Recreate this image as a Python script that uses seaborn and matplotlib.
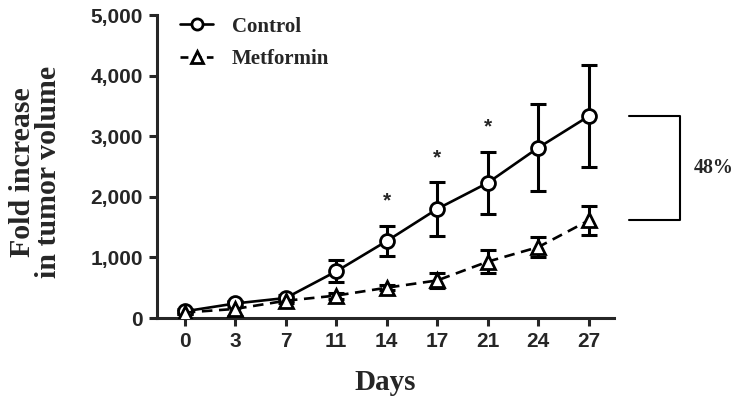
import matplotlib
matplotlib.use("Agg")
import matplotlib.pyplot as plt
import seaborn as sns
import pandas as pd
import numpy as np
from matplotlib.lines import Line2D

days = ['0', '3', '7', '11', '14', '17', '21', '24', '27']
control = [110, 240, 330, 770, 1270, 1800, 2230, 2810, 3330]
control_sem = [40, 40, 50, 180, 250, 440, 510, 715, 840]
metformin = [90, 150, 285, 370, 500, 620, 930, 1170, 1610]
metformin_sem = [30, 110, 40, 50, 40, 130, 190, 170, 245]
star_days = ['14', '17', '21']
star_vals = [1940, 2640, 3150]
yticks = [0, 1000, 2000, 3000, 4000, 5000]
ytick_labels = ['0', '1,000', '2,000', '3,000', '4,000', '5,000']
bracket_label = '48%'

sns.set_style("ticks")
plt.rcParams['font.family'] = ['Liberation Sans', 'DejaVu Sans']

df = pd.DataFrame({
    'day': days * 2,
    'value': control + metformin,
    'group': ['Control'] * len(days) + ['Metformin'] * len(days),
})

fig = plt.figure(figsize=(7.42, 3.96), dpi=100)
ax = fig.add_axes([157 / 742, 1 - 318 / 396, 457 / 742, 303 / 396])

# error bars
for vals, errs in [(control, control_sem), (metformin, metformin_sem)]:
    ax.errorbar(days, vals, yerr=errs, fmt='none', ecolor='black',
                elinewidth=2.2, capsize=5.6, capthick=2.2, zorder=2)

sns.lineplot(data=df, x='day', y='value', style='group',
             markers={'Control': 'o', 'Metformin': '^'},
             dashes={'Control': '', 'Metformin': (4, 2.5)},
             color='black', linewidth=1.9, markersize=10,
             markerfacecolor='white', markeredgecolor='black',
             markeredgewidth=2.0, ax=ax, legend=False, zorder=3)

# stars
for d, v in zip(star_days, star_vals):
    ax.text(d, v, '*', ha='center', va='center', fontsize=15,
            fontweight='bold', family='Liberation Sans')

ax.set_xlim(-0.55, 8.5)
ax.set_ylim(0, 5000)
ax.set_yticks(yticks)
ax.set_yticklabels(ytick_labels)

for s in ['top', 'right']:
    ax.spines[s].set_visible(False)
for s in ['left', 'bottom']:
    ax.spines[s].set_linewidth(2.2)
ax.tick_params(axis='both', width=2.2, length=6, labelsize=15, pad=4)
for lab in ax.get_xticklabels() + ax.get_yticklabels():
    lab.set_fontweight('bold')

ax.set_xlabel('Days', family='Liberation Serif', fontweight='bold',
              fontsize=21)
ax.xaxis.set_label_coords(0.5, -0.168)
ax.set_ylabel('Fold increase\nin tumor volume', family='Liberation Serif',
              fontweight='bold', fontsize=21.5, linespacing=0.95)
ax.yaxis.set_label_coords(-0.208, 0.483)

# bracket
x_b0, x_b1 = 8.79, 9.8
ax.plot([x_b0, x_b1, x_b1, x_b0], [control[-1], control[-1], metformin[-1], metformin[-1]],
        color='black', linewidth=1.5, clip_on=False)
ax.text(10.48, (control[-1] + metformin[-1]) / 2, bracket_label, ha='center', va='center',
        family='Liberation Serif', fontweight='bold', fontsize=14.4)

handles = [
    Line2D([], [], color='black', linewidth=1.9, marker='o', markersize=8,
           markerfacecolor='white', markeredgewidth=2.0),
    Line2D([], [], color='black', linewidth=1.9, linestyle=(0, (3, 2)), marker='^',
           markersize=8, markerfacecolor='white', markeredgewidth=2.0),
]
leg = ax.legend(handles, ['Control', 'Metformin'], loc='upper left',
                bbox_to_anchor=(0.05, 0.995), frameon=False, handlelength=1.6,
                handletextpad=0.9, labelspacing=0.6, borderpad=0, borderaxespad=0,
                prop={'family': 'Liberation Serif', 'weight': 'bold', 'size': 15})

fig.savefig('out.png', dpi=100)
